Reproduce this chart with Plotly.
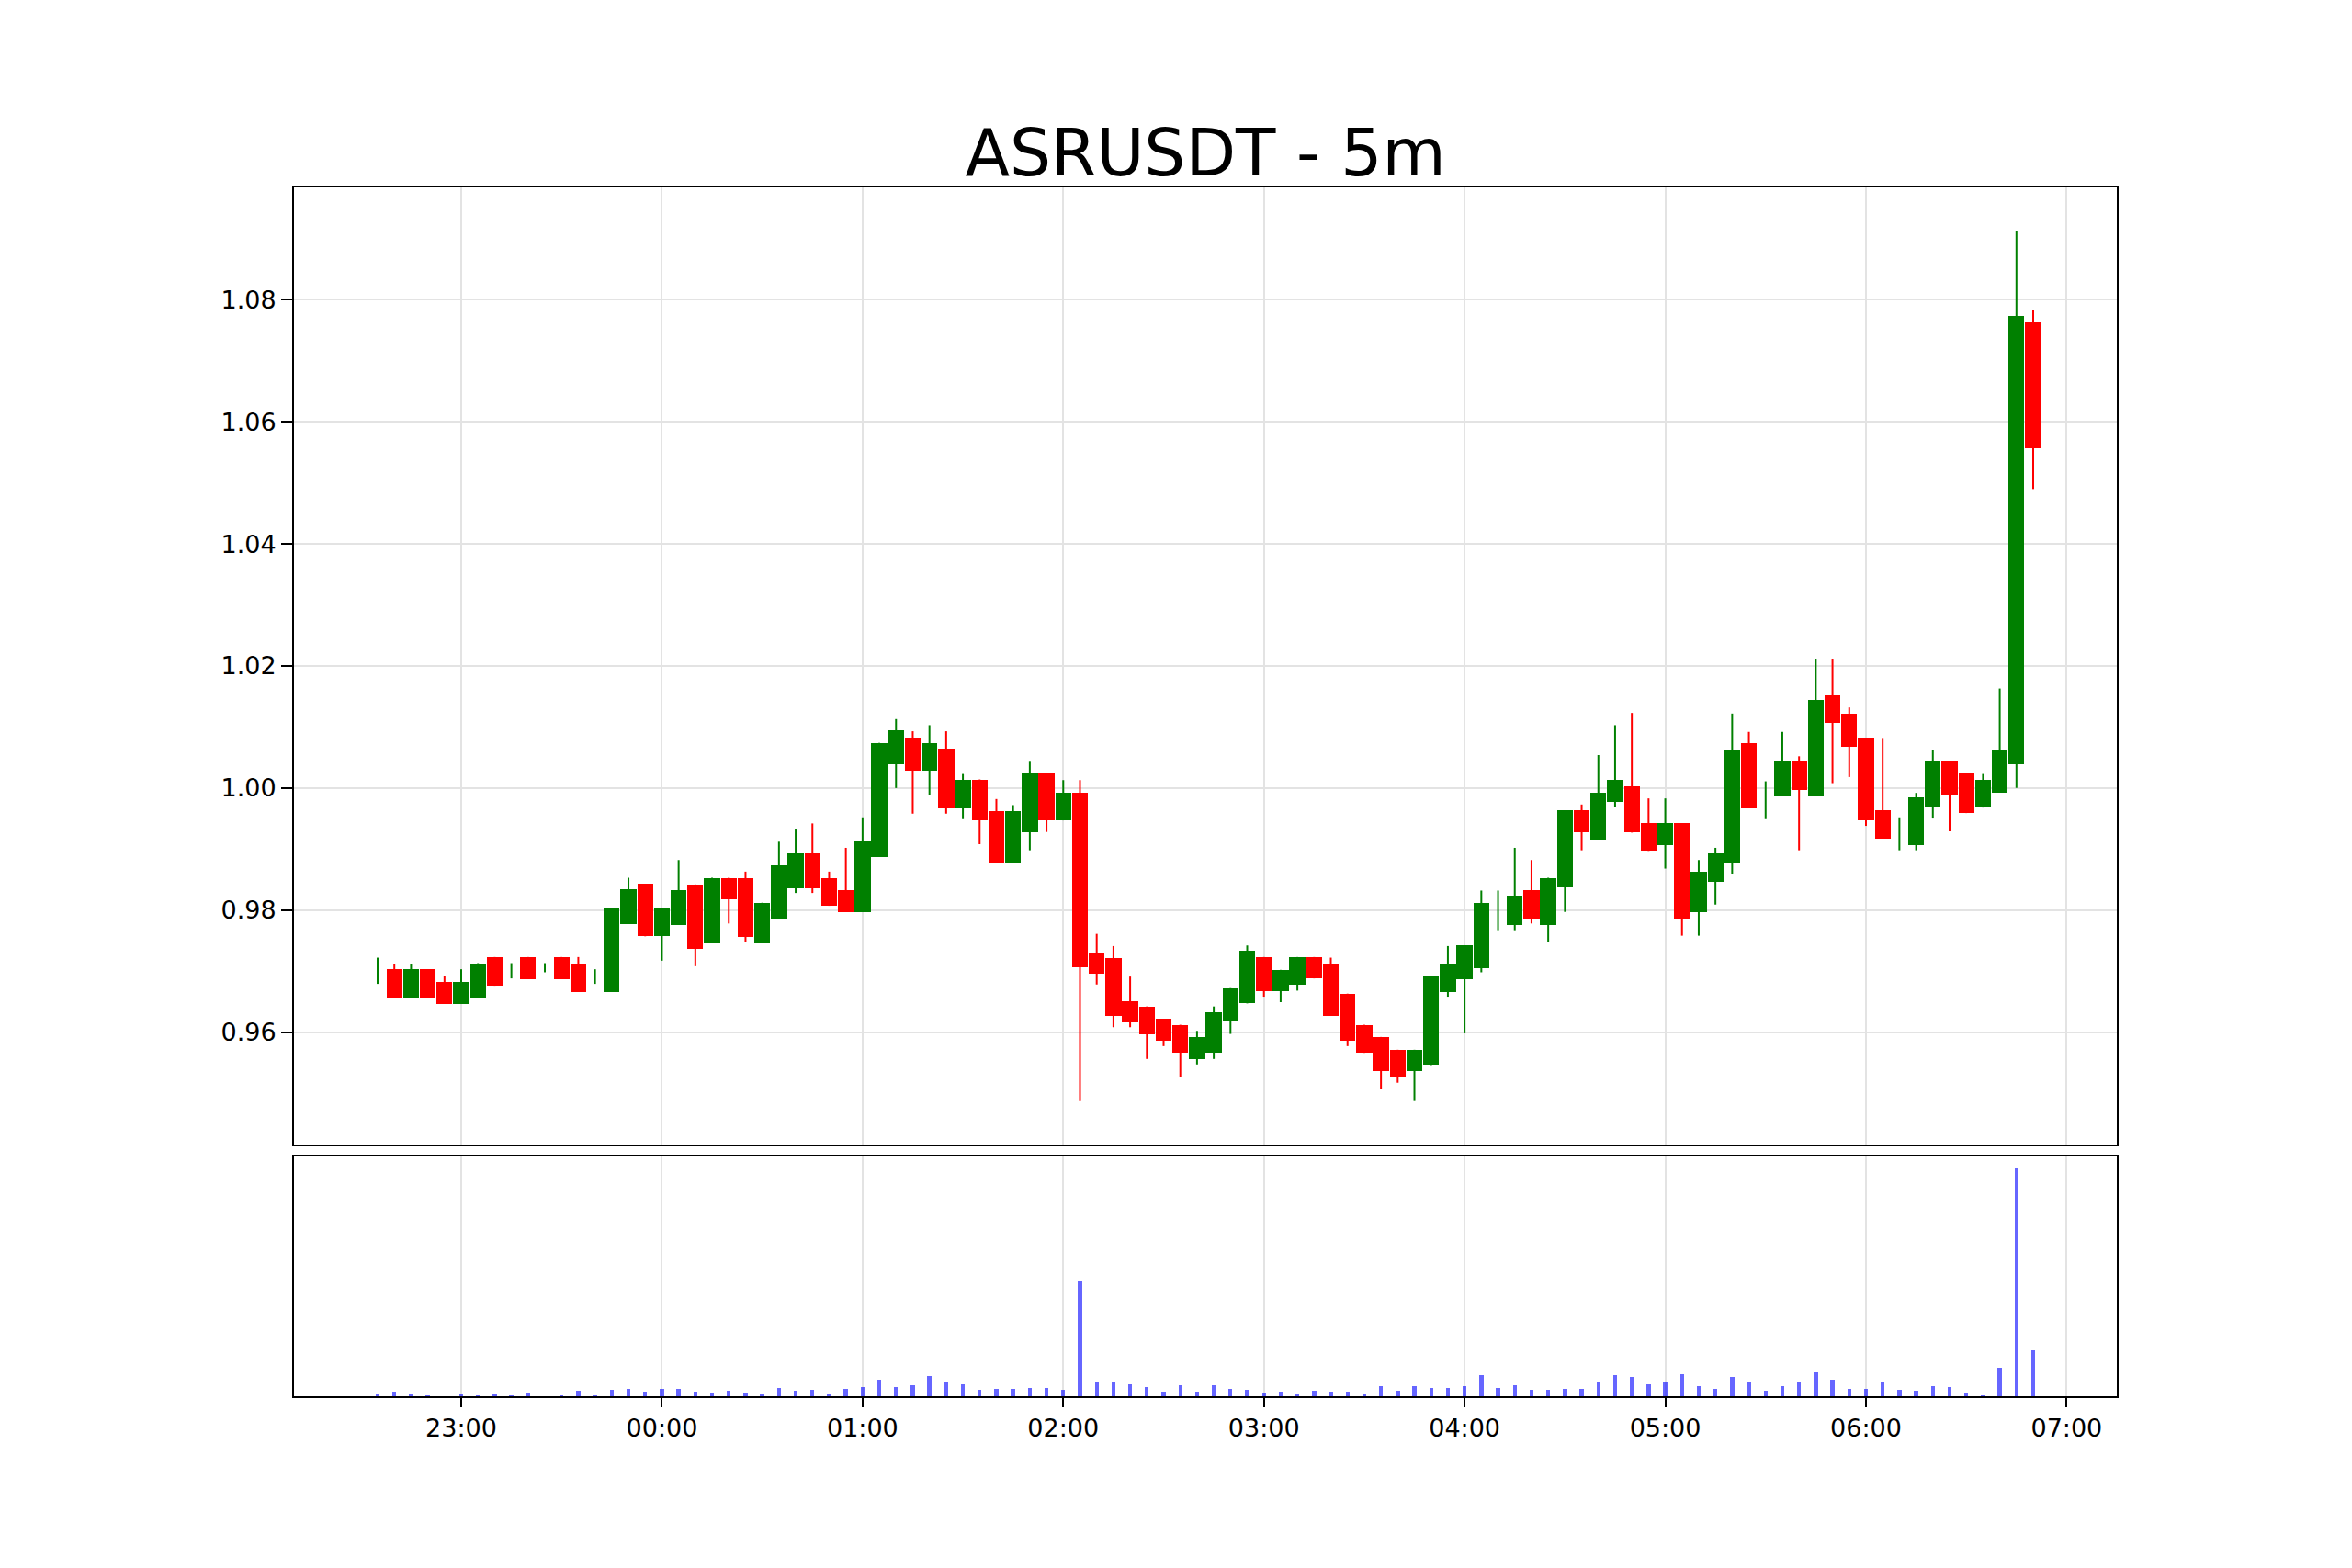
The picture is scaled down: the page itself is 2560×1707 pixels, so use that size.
import pandas as pd
import plotly.graph_objects as go

# ---------------- data ----------------
times = pd.date_range("2025-01-14 22:35", periods=100, freq="5min")

opens = [
    0.9700, 0.9703, 0.9656, 0.9703, 0.9682, 0.9646, 0.9656, 0.9723, 0.9700, 0.9723,
    0.9705, 0.9723, 0.9713, 0.9690, 0.9666, 0.9777, 0.9843, 0.9757, 0.9776, 0.9842,
    0.9746, 0.9853, 0.9853, 0.9746, 0.9786, 0.9836, 0.9893, 0.9853, 0.9833, 0.9797,
    0.9887, 1.0039, 1.0083, 1.0028, 1.0064, 0.9967, 1.0014, 0.9962, 0.9877, 0.9927,
    1.0024, 0.9947, 0.9992, 0.9731, 0.9721, 0.9651, 0.9642, 0.9622, 0.9612, 0.9556,
    0.9566, 0.9617, 0.9647, 0.9723, 0.9667, 0.9677, 0.9723, 0.9713, 0.9663, 0.9612,
    0.9592, 0.9571, 0.9536, 0.9546, 0.9666, 0.9687, 0.9705, 0.9810, 0.9776, 0.9833,
    0.9776, 0.9837, 0.9963, 0.9916, 0.9977, 1.0003, 0.9942, 0.9907, 0.9942, 0.9797,
    0.9847, 0.9877, 1.0073, 0.9980, 0.9987, 1.0043, 0.9987, 1.0152, 1.0122, 1.0082,
    0.9963, 0.9925, 0.9907, 0.9968, 1.0044, 1.0024, 0.9968, 0.9993, 1.0039, 1.0763,
]
highs = [
    0.9722, 0.9712, 0.9712, 0.9703, 0.9692, 0.9703, 0.9713, 0.9723, 0.9713, 0.9723,
    0.9713, 0.9723, 0.9723, 0.9703, 0.9804, 0.9853, 0.9843, 0.9803, 0.9882, 0.9842,
    0.9853, 0.9853, 0.9863, 0.9812, 0.9912, 0.9932, 0.9942, 0.9863, 0.9902, 0.9952,
    1.0074, 1.0113, 1.0093, 1.0103, 1.0093, 1.0023, 1.0014, 0.9982, 0.9972, 1.0043,
    1.0024, 1.0013, 1.0013, 0.9761, 0.9741, 0.9691, 0.9642, 0.9622, 0.9612, 0.9602,
    0.9642, 0.9672, 0.9742, 0.9723, 0.9702, 0.9723, 0.9723, 0.9722, 0.9663, 0.9612,
    0.9592, 0.9571, 0.9571, 0.9692, 0.9741, 0.9742, 0.9832, 0.9832, 0.9902, 0.9882,
    0.9853, 0.9963, 0.9973, 1.0054, 1.0103, 1.0123, 0.9983, 0.9983, 0.9942, 0.9882,
    0.9902, 1.0122, 1.0092, 1.0011, 1.0092, 1.0052, 1.0212, 1.0212, 1.0132, 1.0082,
    1.0082, 0.9952, 0.9992, 1.0063, 1.0044, 1.0024, 1.0023, 1.0163, 1.0913, 1.0783,
]
lows = [
    0.9679, 0.9656, 0.9656, 0.9656, 0.9646, 0.9646, 0.9656, 0.9676, 0.9688, 0.9687,
    0.9698, 0.9687, 0.9666, 0.9679, 0.9666, 0.9777, 0.9757, 0.9717, 0.9776, 0.9708,
    0.9746, 0.9778, 0.9747, 0.9746, 0.9786, 0.9828, 0.9828, 0.9807, 0.9797, 0.9797,
    0.9887, 1.0000, 0.9958, 0.9988, 0.9958, 0.9949, 0.9908, 0.9877, 0.9877, 0.9898,
    0.9928, 0.9947, 0.9487, 0.9678, 0.9608, 0.9608, 0.9556, 0.9577, 0.9527, 0.9547,
    0.9556, 0.9597, 0.9647, 0.9658, 0.9649, 0.9668, 0.9688, 0.9627, 0.9577, 0.9566,
    0.9507, 0.9517, 0.9487, 0.9546, 0.9658, 0.9598, 0.9698, 0.9767, 0.9767, 0.9778,
    0.9747, 0.9797, 0.9898, 0.9916, 0.9969, 0.9927, 0.9897, 0.9868, 0.9758, 0.9758,
    0.9809, 0.9859, 0.9967, 0.9949, 0.9987, 0.9898, 0.9987, 1.0008, 1.0018, 0.9938,
    0.9917, 0.9898, 0.9898, 0.9950, 0.9929, 0.9959, 0.9968, 0.9993, 1.0000, 1.0490,
]
closes = [
    0.9700, 0.9656, 0.9703, 0.9656, 0.9646, 0.9682, 0.9713, 0.9676, 0.9700, 0.9687,
    0.9705, 0.9687, 0.9666, 0.9690, 0.9804, 0.9834, 0.9757, 0.9803, 0.9833, 0.9736,
    0.9853, 0.9817, 0.9756, 0.9812, 0.9873, 0.9893, 0.9836, 0.9807, 0.9797, 0.9913,
    1.0074, 1.0094, 1.0028, 1.0074, 0.9967, 1.0014, 0.9947, 0.9877, 0.9962, 1.0024,
    0.9947, 0.9992, 0.9706, 0.9696, 0.9626, 0.9616, 0.9596, 0.9586, 0.9566, 0.9592,
    0.9633, 0.9672, 0.9733, 0.9667, 0.9702, 0.9723, 0.9688, 0.9627, 0.9586, 0.9566,
    0.9536, 0.9526, 0.9571, 0.9692, 0.9712, 0.9742, 0.9812, 0.9810, 0.9823, 0.9786,
    0.9853, 0.9963, 0.9927, 0.9992, 1.0014, 0.9927, 0.9897, 0.9942, 0.9786, 0.9863,
    0.9893, 1.0063, 0.9967, 0.9980, 1.0043, 0.9997, 1.0144, 1.0107, 1.0067, 0.9947,
    0.9917, 0.9925, 0.9984, 1.0044, 0.9988, 0.9959, 1.0014, 1.0063, 1.0774, 1.0557,
]
volumes = [
    6, 16, 7, 2, 1, 7, 2, 7, 2, 8,
    1, 2, 17, 2, 20, 23, 14, 23, 23, 14,
    11, 17, 8, 5, 26, 17, 22, 5, 23, 31,
    53, 29, 37, 65, 46, 38, 20, 23, 23, 26,
    26, 20, 374, 47, 47, 38, 31, 14, 35, 14,
    35, 23, 20, 11, 16, 5, 17, 16, 16, 7,
    33, 17, 33, 27, 27, 32, 68, 27, 36, 20,
    20, 23, 23, 44, 68, 62, 38, 47, 71, 33,
    23, 62, 47, 17, 32, 44, 77, 53, 23, 23,
    47, 20, 17, 32, 29, 11, 2, 92, 743, 149,
]
hour_ticks = pd.date_range("2025-01-14 23:00", "2025-01-15 07:00", freq="h")
price_ticks = [0.96, 0.98, 1.00, 1.02, 1.04, 1.06, 1.08]
title_text = "ASRUSDT - 5m"

# ---------------- styling ----------------
UP = "#008000"
DOWN = "#ff0000"
VOL = "rgba(0,0,255,0.6)"
GRID = "#e3e3e3"
FONT = "DejaVu Sans"
candle_ms = 5 * 60 * 1000

is_up = [c >= o for o, c in zip(opens, closes)]
body_colors = [UP if u else DOWN for u in is_up]

def wick_xy(flag):
    xs, ys = [], []
    for t, lo, hi, u in zip(times, lows, highs, is_up):
        if u == flag:
            xs += [t, t, None]
            ys += [lo, hi, None]
    return xs, ys

fig = go.Figure()
for flag, col in ((True, UP), (False, DOWN)):
    wx, wy = wick_xy(flag)
    fig.add_trace(go.Scatter(x=wx, y=wy, mode="lines", line=dict(color=col, width=2),
                             hoverinfo="skip", showlegend=False, xaxis="x", yaxis="y"))

fig.add_trace(go.Bar(
    x=times, base=opens, y=[c - o for o, c in zip(opens, closes)],
    width=candle_ms * 0.95, marker=dict(color=body_colors, line=dict(width=0)),
    showlegend=False, xaxis="x", yaxis="y"))

fig.add_trace(go.Bar(
    x=times, y=volumes, width=72 * 1000,
    marker=dict(color=VOL, line=dict(width=0)),
    showlegend=False, xaxis="x2", yaxis="y2"))

span = max(highs) - min(lows)
yrange = [min(lows) - 0.05 * span, max(highs) + 0.05 * span]
pad = pd.Timedelta(minutes=25)
xrange = [times[0] - pad, times[-1] + pad]

axis_common = dict(showline=True, mirror=True, linecolor="black", linewidth=2,
                   zeroline=False)

fig.update_layout(
    width=2560, height=1707,
    margin=dict(l=320, r=256, t=204, b=187),
    paper_bgcolor="white", plot_bgcolor="white",
    barmode="overlay", bargap=0,
    font=dict(family=FONT, size=27, color="black"),
    title=dict(text=title_text, x=0.5, xref="paper", xanchor="center",
               y=1 - 166 / 1707, yref="container", yanchor="middle",
               font=dict(family=FONT, size=71, color="black")),
    xaxis=dict(domain=[0, 1], anchor="y", range=xrange, tickvals=hour_ticks,
               showticklabels=False, ticks="", showgrid=True, gridcolor=GRID,
               gridwidth=1.5, **axis_common),
    yaxis=dict(domain=[0.2082, 1], anchor="x", range=yrange, tickvals=price_ticks,
               tickformat=".2f", ticks="outside", ticklen=12, tickwidth=2,
               tickcolor="black", showgrid=True, gridcolor=GRID, gridwidth=1.5,
               tickfont=dict(family=FONT, size=27), **axis_common),
    xaxis2=dict(domain=[0, 1], anchor="y2", range=xrange, matches="x",
                tickvals=hour_ticks, tickformat="%H:%M", ticks="outside",
                ticklen=10, tickwidth=2, tickcolor="black", showgrid=True,
                gridcolor=GRID, gridwidth=1.5,
                tickfont=dict(family=FONT, size=27), **axis_common),
    yaxis2=dict(domain=[0, 0.1983], anchor="x2", range=[0, max(volumes) * 1.047],
                showticklabels=False, ticks="", showgrid=False, **axis_common),
)

fig.write_html("out.html")
